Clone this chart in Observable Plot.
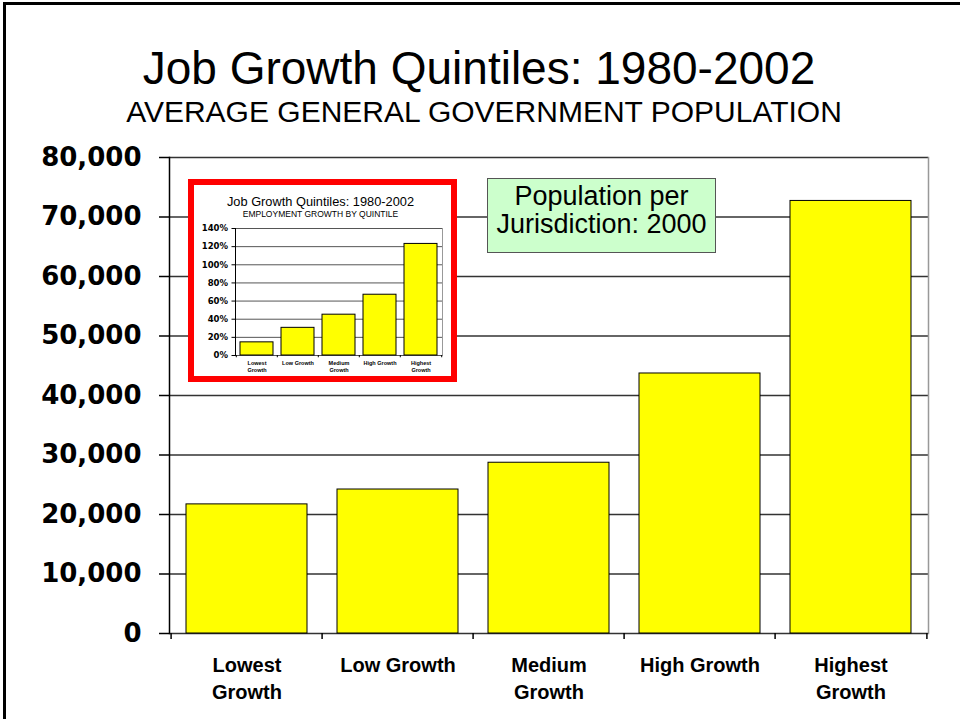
<!DOCTYPE html>
<html><head><meta charset="utf-8">
<script src="https://cdn.jsdelivr.net/npm/d3@7"></script>
<script src="https://cdn.jsdelivr.net/npm/@observablehq/plot@0.6"></script>
<style>
body{margin:0;background:#fff;}
#wrap{position:relative;width:960px;height:719px;overflow:hidden;font-family:"Liberation Sans",Arial,sans-serif;color:#000;background:#fff;}
.abs{position:absolute;line-height:1;white-space:nowrap;}
</style></head><body>
<div id="wrap">
  <div id="main" class="abs" style="left:0;top:0"></div>
  <div class="abs" style="left:3px;top:2px;width:960px;height:720px;border-top:3px solid #000;border-left:3px solid #000;"></div>
  <div class="abs" style="left:0;width:958px;top:50px;font-size:46px;line-height:0.8;text-align:center">Job Growth Quintiles: 1980-2002</div>
  <div class="abs" style="left:0;width:968px;top:99.8px;font-size:30px;line-height:0.8;text-align:center">AVERAGE GENERAL GOVERNMENT POPULATION</div>
  <div class="abs" style="left:188px;top:179px;width:269px;height:203px;box-sizing:border-box;border:6px solid #ff0000;background:#fff;"></div>
  <div id="inset" class="abs" style="left:194px;top:185px"></div>
  <div class="abs" style="left:188px;width:265px;top:195.5px;font-size:12.8px;text-align:center">Job Growth Quintiles: 1980-2002</div>
  <div class="abs" style="left:188px;width:265px;top:210px;font-size:8.5px;text-align:center">EMPLOYMENT GROWTH BY QUINTILE</div>
  <div class="abs" style="left:487px;top:178px;width:229px;height:75px;box-sizing:border-box;background:#ccffcc;border:1px solid #555;"></div>
  <div class="abs" style="left:487px;width:229px;top:181.5px;font-size:27px;line-height:28px;text-align:center">Population per<br>Jurisdiction: 2000</div>
</div>
<script>
// ---- data ----
const categories = ["Lowest Growth", "Low Growth", "Medium Growth", "High Growth", "Highest Growth"];
const tickLabels = ["Lowest\nGrowth", "Low Growth", "Medium\nGrowth", "High Growth", "Highest\nGrowth"];
const population = [21700, 24200, 28700, 43700, 72700];
const popTicks = [0, 10000, 20000, 30000, 40000, 50000, 60000, 70000, 80000];
const employmentGrowth = [14.5, 30.5, 45, 67, 123];
const growthTicks = [0, 20, 40, 60, 80, 100, 120, 140];

const labelOf = d => tickLabels[categories.indexOf(d)];

// ---- main chart ----
{
  const W = 960, H = 719, mL = 169, mR = 32, mT = 157, mB = 86;
  const step = (W - mL - mR) / categories.length;
  const rows = categories.map((c, i) => ({cat: c, value: population[i]}));
  const chart = Plot.plot({
    width: W, height: H, marginLeft: mL, marginRight: mR, marginTop: mT, marginBottom: mB,
    style: {background: "transparent", fontFamily: "Liberation Sans, Arial, sans-serif", color: "#000", overflow: "visible"},
    x: {domain: categories, paddingInner: 0.2, paddingOuter: 0.1, label: null},
    y: {domain: [0, 80000], label: null},
    marks: [
      Plot.gridY(popTicks, {stroke: "#333", strokeOpacity: 1, strokeWidth: 1.5}),
      Plot.barY(rows, {x: "cat", y: "value", fill: "#ffff00", stroke: "#000", strokeWidth: 1}),
      Plot.frame({anchor: "left", stroke: "#000", strokeWidth: 1.5}),
      Plot.frame({anchor: "right", stroke: "#999", strokeWidth: 1.5}),
      Plot.ruleX(categories, {x: d => d, dx: -step / 2, y1: 0, y2: -1000, stroke: "#000", strokeWidth: 1.5}),
      Plot.ruleX(categories.slice(-1), {x: d => d, dx: step / 2, y1: 0, y2: -1000, stroke: "#000", strokeWidth: 1.5}),
      Plot.axisY({ticks: popTicks, tickSize: 10, tickPadding: 18, tickFormat: d3.format(","),
        fontSize: 26, fontWeight: "bold", fontFamily: "DejaVu Sans", stroke: "#000", strokeWidth: 1.5, label: null}),
      Plot.axisX({tickSize: 0, tickPadding: 20, tickFormat: labelOf, fontSize: 20, fontWeight: "bold",
        lineHeight: 1.33, label: null})
    ]
  });
  document.getElementById("main").appendChild(chart);
}

// ---- inset chart ----
{
  const W = 257, H = 191, mL = 41, mR = 9, mT = 43, mB = 21;
  const step = (W - mL - mR) / categories.length;
  const rows = categories.map((c, i) => ({cat: c, value: employmentGrowth[i]}));
  const chart = Plot.plot({
    width: W, height: H, marginLeft: mL, marginRight: mR, marginTop: mT, marginBottom: mB,
    style: {background: "transparent", fontFamily: "Liberation Sans, Arial, sans-serif", color: "#000", overflow: "visible"},
    x: {domain: categories, paddingInner: 0.2, paddingOuter: 0.1, label: null},
    y: {domain: [0, 140], label: null},
    marks: [
      Plot.gridY(growthTicks, {stroke: "#555", strokeOpacity: 1, strokeWidth: 1}),
      Plot.barY(rows, {x: "cat", y: "value", fill: "#ffff00", stroke: "#000", strokeWidth: 1}),
      Plot.frame({anchor: "left", stroke: "#000", strokeWidth: 1}),
      Plot.frame({anchor: "right", stroke: "#999", strokeWidth: 1}),
      Plot.ruleX(categories, {x: d => d, dx: -step / 2, y1: 0, y2: -2.5, stroke: "#000"}),
      Plot.ruleX(categories.slice(-1), {x: d => d, dx: step / 2, y1: 0, y2: -2.5, stroke: "#000"}),
      Plot.axisY({ticks: growthTicks, tickSize: 3.5, tickPadding: 4, tickFormat: d => d + "%",
        fontSize: 8.5, fontWeight: "bold", fontFamily: "DejaVu Sans", stroke: "#000", label: null}),
      Plot.axisX({tickSize: 0, tickPadding: 4, tickFormat: labelOf, fontSize: 5.5, fontWeight: "bold",
        lineHeight: 1.33, label: null})
    ]
  });
  document.getElementById("inset").appendChild(chart);
}
</script>
</body></html>
